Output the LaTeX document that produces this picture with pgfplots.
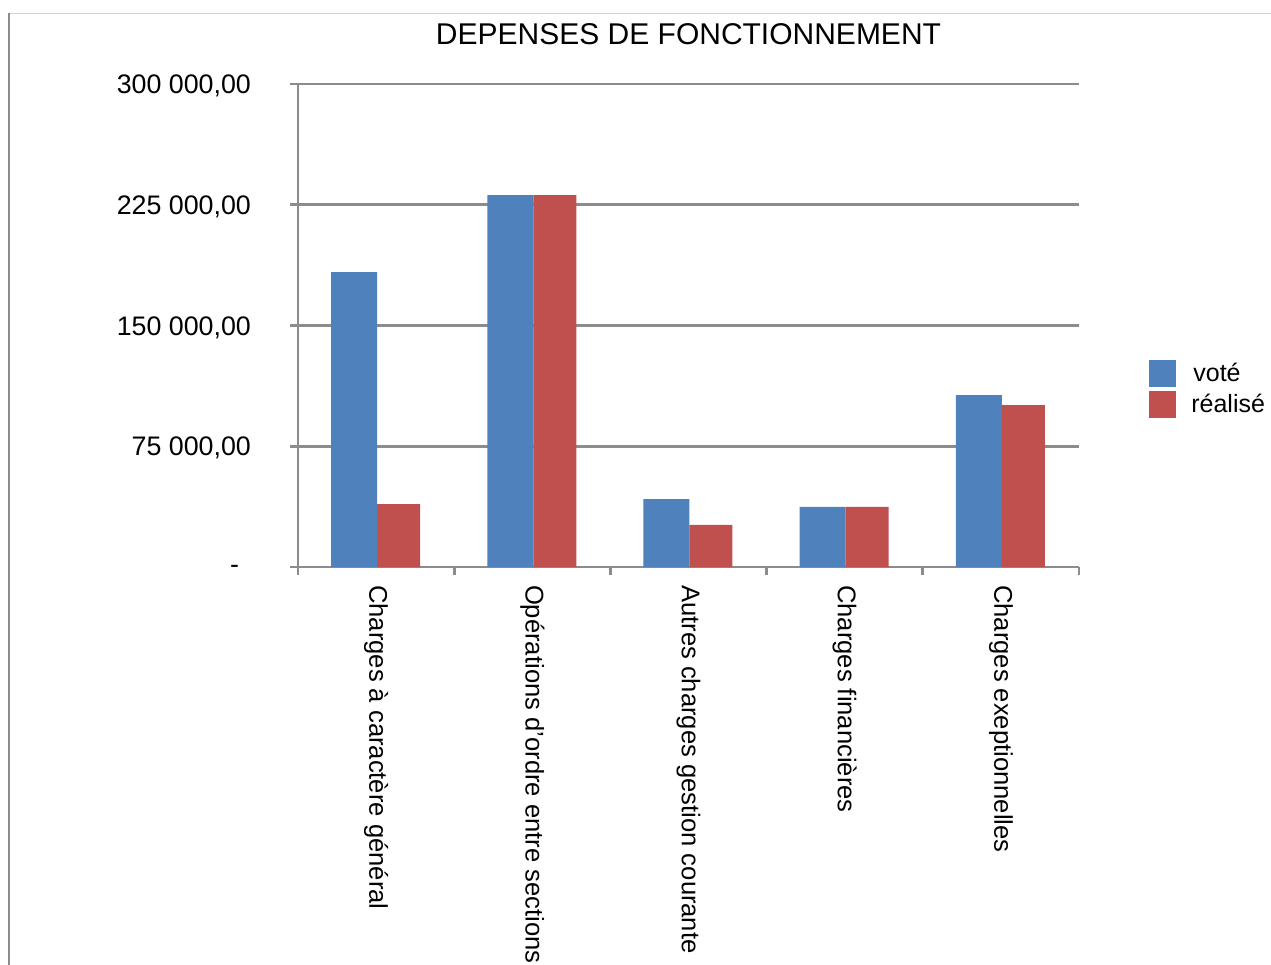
\documentclass[border=0pt]{standalone}
\usepackage{fontspec}
\setmainfont{Liberation Sans}
\usepackage{pgfplots}
\pgfplotsset{compat=1.18}
\definecolor{vote}{HTML}{4F81BD}
\definecolor{real}{HTML}{C0504D}
\definecolor{gridg}{HTML}{8C8C8C}
\begin{document}
\begin{tikzpicture}
\useasboundingbox (0,0) rectangle (635.5pt,482.5pt);
\clip (0,0) rectangle (635.5pt,482.5pt);
\draw[black!18, line width=0.6pt] (4pt,475.75pt) -- (635.5pt,475.75pt);
\draw[gridg, line width=1pt] (4.5pt,476pt) -- (4.5pt,0pt);
\begin{axis}[
  at={(149pt,199pt)}, anchor=south west,
  scale only axis, width=390.5pt, height=241.5pt,
  xmin=-0.5, xmax=4.5, ymin=0, ymax=300000,
  scaled y ticks=false,
  axis lines*=left,
  axis line style={draw=gridg, line width=1.3pt, -},
  tick align=outside,
  major tick length=4pt,
  ytick={0,75000,150000,225000,300000},
  yticklabels={{\raisebox{-2pt}{-}\kern6pt\mbox{}},{75 000,00},{150 000,00},{225 000,00},{300 000,00}},
  yticklabel style={font=\fontsize{13.4pt}{15pt}\selectfont, anchor=east, xshift=-16pt, yshift=-1pt},
  ymajorgrids,
  grid style={draw=gridg, line width=1.3pt},
  ytick style={draw=gridg, line width=1.3pt},
  xtick={0,1,2,3,4},
  xtick style={draw=none},
  xticklabels={Charges à caractère général, Opérations d'ordre entre sections, Autres charges gestion courante, Charges financières, Charges exeptionnelles},
  xticklabel style={font=\fontsize{12.8pt}{15pt}\selectfont, yshift=-1.5pt, rotate=-90, anchor=west},
  extra x ticks={-0.5,0.5,1.5,2.5,3.5,4.5},
  extra x tick labels={},
  extra x tick style={xtick style={draw=gridg, line width=1.3pt}, grid=none},
  title={DEPENSES DE FONCTIONNEMENT},
  title style={font=\fontsize{15pt}{18pt}\selectfont, at={(0.5,1)}, anchor=center, yshift=19pt},
  legend style={at={(1.0896,0.4286)}, anchor=north west, draw=none, fill=none, inner sep=0pt, font=\fontsize{12.5pt}{15pt}\selectfont, row sep=2pt, nodes={inner sep=1pt}},
  legend cell align=left,
  legend image code/.code={\fill[#1] (0pt,-6.75pt) rectangle (13.5pt,6.75pt);},
  clip=false,
]
\addplot[ybar, bar width=23pt, bar shift=-11pt, fill=vote, draw=none] coordinates {(0,183200) (1,231000) (2,42200) (3,37300) (4,106800)};
\addplot[ybar, bar width=21.5pt, bar shift=11.25pt, fill=real, draw=none] coordinates {(0,39100) (1,231000) (2,26100) (3,37300) (4,100600)};
\legend{\hspace{7.5pt}voté,\hspace{6.5pt}réalisé}
\end{axis}
\end{tikzpicture}
\end{document}
